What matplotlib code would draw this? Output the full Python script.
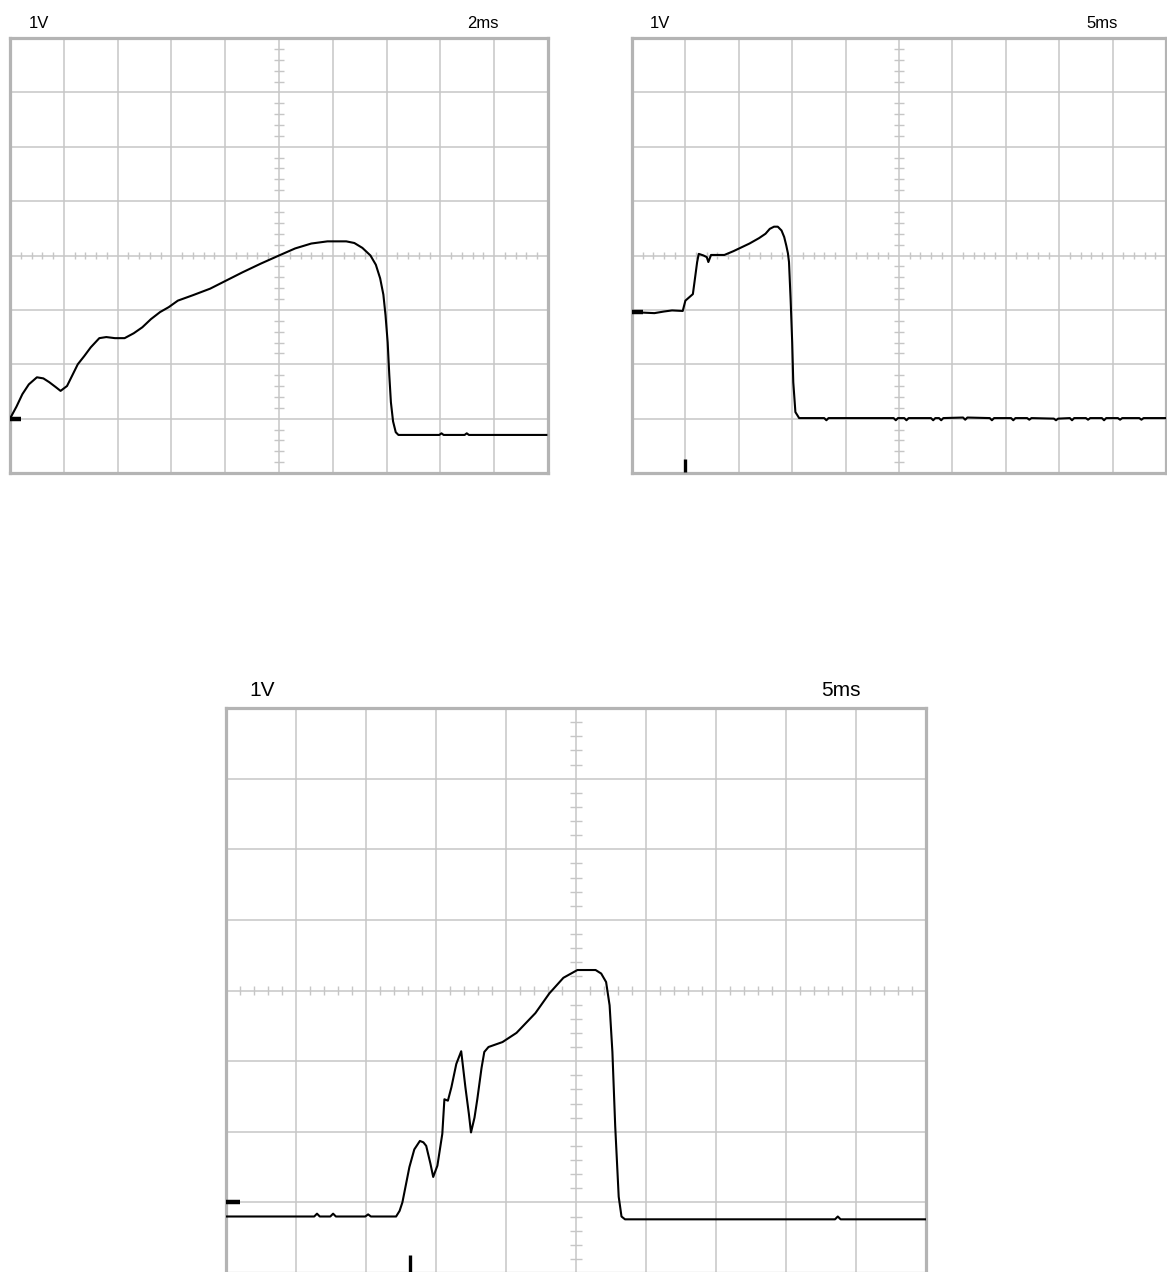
import numpy as np
import matplotlib
matplotlib.use("Agg")
import matplotlib.pyplot as plt
from matplotlib.collections import LineCollection

# ---- Screen 1: 1 V/div, 2 ms/div ----
s1_volts = "1V"
s1_time = "2ms"
s1_x = [0.00, 0.12, 0.23, 0.35, 0.50, 0.62, 0.73, 0.85, 0.94, 1.06, 1.15, 1.26,
        1.38, 1.50, 1.66, 1.79, 1.95, 2.13, 2.30, 2.46, 2.62, 2.79, 2.95, 3.12,
        3.40, 3.72, 4.00, 4.32, 4.66, 5.00, 5.30, 5.60, 5.90, 6.25, 6.40, 6.55,
        6.70, 6.80, 6.88, 6.94, 6.98, 7.02, 7.05, 7.08, 7.12, 7.17, 7.22, 7.60,
        7.98, 8.02, 8.06, 8.45, 8.49, 8.53, 9.97]
s1_y = [-3.00, -2.78, -2.55, -2.37, -2.24, -2.26, -2.33, -2.42, -2.49, -2.40, -2.22, -2.00,
        -1.85, -1.69, -1.52, -1.50, -1.52, -1.52, -1.43, -1.32, -1.17, -1.04, -0.95, -0.83,
        -0.73, -0.61, -0.47, -0.31, -0.15, 0.00, 0.13, 0.22, 0.26, 0.26, 0.23, 0.14,
        0.00, -0.17, -0.42, -0.72, -1.10, -1.60, -2.20, -2.70, -3.05, -3.25, -3.30, -3.30,
        -3.30, -3.27, -3.30, -3.30, -3.27, -3.30, -3.30]
s1_ground = -3.0
s1_trigger = None

# ---- Screen 2: 1 V/div, 5 ms/div ----
s2_volts = "1V"
s2_time = "5ms"
s2_x = [0.00, 0.20, 0.42, 0.60, 0.75, 0.95, 1.00, 1.07, 1.14, 1.17, 1.22, 1.25,
        1.34, 1.40, 1.43, 1.48, 1.60, 1.73, 1.90, 2.05, 2.20, 2.38, 2.50, 2.58,
        2.66, 2.73, 2.80, 2.85, 2.89, 2.92, 2.94, 2.97, 3.00, 3.02, 3.06, 3.13,
        3.60, 3.64, 3.68, 4.90, 4.94, 4.98, 5.10, 5.14, 5.18, 5.60, 5.64, 5.68,
        5.75, 5.79, 5.83, 6.20, 6.24, 6.28, 6.70, 6.74, 6.78, 7.10, 7.14, 7.18,
        7.40, 7.44, 7.48, 7.90, 7.94, 7.98, 8.20, 8.24, 8.28, 8.50, 8.54, 8.58,
        8.80, 8.84, 8.88, 9.10, 9.14, 9.18, 9.50, 9.54, 9.58, 10.0]
s2_y = [-1.04, -1.05, -1.06, -1.03, -1.01, -1.02, -0.83, -0.77, -0.71, -0.49, -0.12, 0.03,
        0.00, -0.03, -0.12, 0.01, 0.01, 0.01, 0.08, 0.15, 0.22, 0.32, 0.40, 0.49,
        0.53, 0.53, 0.46, 0.34, 0.18, 0.04, -0.12, -0.80, -1.60, -2.33, -2.88, -2.99,
        -2.99, -3.03, -2.99, -2.99, -3.03, -2.99, -2.99, -3.03, -2.99, -2.99, -3.03, -2.99,
        -2.99, -3.03, -2.99, -2.98, -3.02, -2.98, -2.99, -3.03, -2.99, -2.99, -3.03, -2.99,
        -2.99, -3.02, -2.99, -3.00, -3.03, -3.00, -2.99, -3.03, -2.99, -2.99, -3.02, -2.99,
        -2.99, -3.03, -2.99, -2.99, -3.02, -2.99, -2.99, -3.02, -2.99, -2.99]
s2_ground = -1.04
s2_trigger = 1.0

# ---- Screen 3: 1 V/div, 5 ms/div ----
s3_volts = "1V"
s3_time = "5ms"
s3_x = [0.00, 1.26, 1.30, 1.34, 1.49, 1.53, 1.57, 1.99, 2.03, 2.07, 2.43, 2.48,
        2.52, 2.57, 2.62, 2.69, 2.77, 2.82, 2.86, 2.92, 2.96, 3.02, 3.09, 3.12,
        3.17, 3.22, 3.29, 3.36, 3.42, 3.47, 3.50, 3.55, 3.59, 3.65, 3.69, 3.75,
        3.95, 4.15, 4.42, 4.62, 4.82, 5.02, 5.28, 5.36, 5.43, 5.48, 5.52, 5.56,
        5.61, 5.65, 5.70, 8.70, 8.74, 8.78, 10.0]
s3_y = [-3.20, -3.20, -3.16, -3.20, -3.20, -3.16, -3.20, -3.20, -3.17, -3.20, -3.20, -3.12,
        -3.00, -2.75, -2.50, -2.25, -2.13, -2.15, -2.20, -2.45, -2.64, -2.48, -2.03, -1.54,
        -1.56, -1.37, -1.04, -0.86, -1.37, -1.75, -2.01, -1.80, -1.54, -1.10, -0.87, -0.80,
        -0.73, -0.60, -0.32, -0.04, 0.18, 0.29, 0.29, 0.24, 0.12, -0.21, -0.87, -1.92,
        -2.92, -3.20, -3.24, -3.24, -3.20, -3.24, -3.24]
s3_ground = -3.0
s3_trigger = 2.63

W, H = 1167, 1272
GRID = "#c6c6c6"
FRAME = "#b4b4b4"
FONT = ["Liberation Sans", "DejaVu Sans"]

fig = plt.figure(figsize=(W / 100, H / 100), dpi=100)


def screen(left, top, right, bottom, xs, ys, volts, tdiv, ground, trigger,
           fsize, text_y):
    ax = fig.add_axes([left / W, 1 - bottom / H, (right - left) / W, (bottom - top) / H])
    ax.set_xlim(0, 10)
    ax.set_ylim(-4, 4)
    ax.set_xticks([])
    ax.set_yticks([])
    for sp in ax.spines.values():
        sp.set_color(FRAME)
        sp.set_linewidth(2.3)
    # graticule
    for i in range(1, 10):
        ax.axvline(i, color=GRID, lw=1.1, zorder=1)
    for j in range(-3, 4):
        ax.axhline(j, color=GRID, lw=1.1, zorder=1)
    # minor ticks along the centre lines
    segs = []
    for k in range(1, 50):
        if k % 5:
            x = k * 0.2
            segs.append([(x, -0.07), (x, 0.07)])
    for k in range(1, 40):
        if k % 5:
            y = -4 + k * 0.2
            segs.append([(5 - 0.09, y), (5 + 0.09, y)])
    ax.add_collection(LineCollection(segs, colors=GRID, linewidths=1.0, zorder=1))
    # trace
    ax.plot(xs, ys, color="black", lw=1.5, zorder=3, solid_joinstyle="round")
    # ground level marker
    ax.plot([0, 0.2], [ground, ground], color="black", lw=3.2,
            solid_capstyle="butt", zorder=4)
    # trigger position marker
    if trigger is not None:
        ax.plot([trigger, trigger], [-3.98, -3.74], color="black", lw=2.4,
                solid_capstyle="butt", zorder=4)
    ax.text(0.34, text_y, volts, fontsize=fsize, family=FONT, va="baseline",
            ha="left", clip_on=False)
    ax.text(8.5, text_y, tdiv, fontsize=fsize, family=FONT, va="baseline",
            ha="left", clip_on=False)
    return ax


screen(10, 38, 548, 473, s1_x, s1_y, s1_volts, s1_time, s1_ground, s1_trigger, 12, 4.19)
screen(632, 38, 1166, 473, s2_x, s2_y, s2_volts, s2_time, s2_ground, s2_trigger, 12, 4.19)
screen(226, 708, 926, 1273, s3_x, s3_y, s3_volts, s3_time, s3_ground, s3_trigger, 15, 4.17)

fig.savefig("out.png", dpi=100, facecolor="white")
